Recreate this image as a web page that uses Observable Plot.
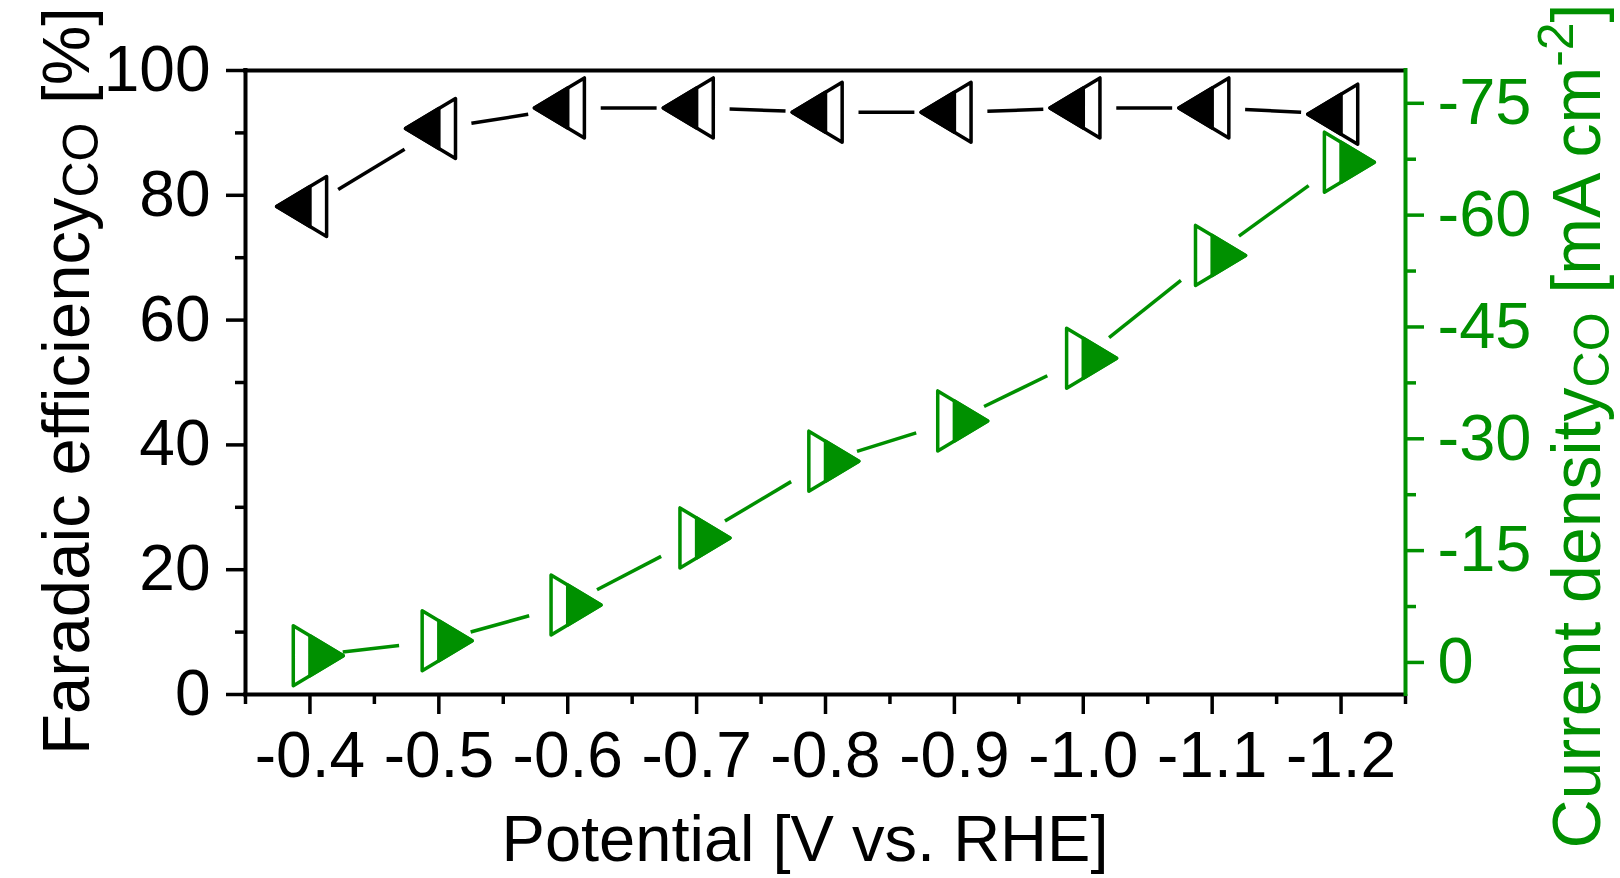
<!DOCTYPE html>
<html>
<head>
<meta charset="utf-8">
<script src="https://cdn.jsdelivr.net/npm/d3@7"></script>
<script src="https://cdn.jsdelivr.net/npm/@observablehq/plot@0.6"></script>
<style>
  html, body { margin: 0; padding: 0; background: #fff; }
  #chart svg { display: block; }
</style>
</head>
<body>
<div id="chart"></div>
<script>
// ---- Data ----
const potentials = [-0.4, -0.5, -0.6, -0.7, -0.8, -0.9, -1.0, -1.1, -1.2];
const faradaicEfficiencyCO = [78.2, 90.7, 94.0, 94.0, 93.3, 93.3, 94.0, 94.0, 93.0];
const currentDensityCO = [-0.9, -2.9, -7.7, -16.7, -27.0, -32.4, -40.8, -54.6, -67.1];

// ---- Tick labels ----
const xTicks = [-0.4, -0.5, -0.6, -0.7, -0.8, -0.9, -1.0, -1.1, -1.2];
const xMinorTicks = [-0.35, -0.45, -0.55, -0.65, -0.75, -0.85, -0.95, -1.05, -1.15, -1.25];
const leftTicks = [0, 20, 40, 60, 80, 100];
const leftMinorTicks = [10, 30, 50, 70, 90];
const rightTicks = [0, -15, -30, -45, -60, -75];
const rightMinorTicks = [-7.5, -22.5, -37.5, -52.5, -67.5];

// ---- Styling ----
const GREEN = "#009000";
const FONT = "'Liberation Sans', Arial, Helvetica, sans-serif";

// secondary axis: current density mapped onto the left (FE) scale
const rightScale = d3.scaleLinear().domain([4.3, -79.4]).range([0, 100]);

const feData = potentials.map((p, i) => ({potential: p, value: faradaicEfficiencyCO[i]}));
const cdData = potentials.map((p, i) => ({potential: p, value: rightScale(currentDensityCO[i])}));
const segs = (arr) => arr.slice(0, -1).map((d, i) => ({x1: d.potential, y1: d.value, x2: arr[i + 1].potential, y2: arr[i + 1].value}));

// Half-filled triangle symbols (centred on the centroid)
function tri(dir, part) {
  return {
    draw(ctx, size) {
      const r = Math.sqrt(size / Math.PI);
      const w = r * 5 / 3, h = r;
      const s = dir; // -1 = pointing left, +1 = pointing right
      if (part === "full") {
        ctx.moveTo(s * 2 * w / 3, 0);
        ctx.lineTo(-s * w / 3, -h);
        ctx.lineTo(-s * w / 3, h);
        ctx.closePath();
      } else {
        ctx.moveTo(s * 2 * w / 3, 0);
        ctx.lineTo(0, -h * 2 / 3);
        ctx.lineTo(0, h * 2 / 3);
        ctx.closePath();
      }
    }
  };
}

const plot = Plot.plot({
  width: 1620,
  height: 878,
  marginLeft: 245,
  marginRight: 215,
  marginTop: 70,
  marginBottom: 184,
  style: {fontFamily: FONT, fontSize: "64px", color: "#000", background: "#fff"},
  x: {domain: [-0.35, -1.25], label: null},
  y: {domain: [0, 100], label: null},
  marks: [
    // axes
    Plot.axisX(xTicks, {tickSize: 20, tickPadding: 17, tickFormat: d => d.toFixed(1), fontSize: 64, strokeWidth: 3.5, label: null}),
    Plot.axisX(xMinorTicks, {tickSize: 10, tickFormat: () => "", strokeWidth: 3.5, label: null}),
    Plot.axisY(leftTicks, {anchor: "left", tickSize: 19, tickPadding: 16, tickFormat: d => String(d), fontSize: 64, strokeWidth: 3.5, label: null}),
    Plot.axisY(leftMinorTicks, {anchor: "left", tickSize: 10, tickFormat: () => "", strokeWidth: 3.5, label: null}),
    Plot.axisY(rightTicks.map(v => rightScale(v)), {anchor: "right", tickSize: 18, tickPadding: 14, tickFormat: d => String(Math.round(rightScale.invert(d))), fontSize: 65, stroke: GREEN, fill: GREEN, strokeWidth: 3.5, label: null}),
    Plot.axisY(rightMinorTicks.map(v => rightScale(v)), {anchor: "right", tickSize: 10, tickFormat: () => "", stroke: GREEN, strokeWidth: 3.5, label: null}),
    // frame
    Plot.ruleY([0, 100], {strokeWidth: 4, strokeLinecap: "square"}),
    Plot.ruleX([-0.35], {strokeWidth: 4, strokeLinecap: "square"}),
    Plot.ruleX([-1.25], {stroke: GREEN, strokeWidth: 4, strokeLinecap: "square"}),
    // connecting lines with gaps
    Plot.arrow(segs(feData), {x1: "x1", y1: "y1", x2: "x2", y2: "y2", stroke: "#000", strokeWidth: 3.5, headLength: 0, insetStart: 33, insetEnd: 40, strokeLinecap: "butt"}),
    Plot.arrow(segs(cdData), {x1: "x1", y1: "y1", x2: "x2", y2: "y2", stroke: GREEN, strokeWidth: 3.5, headLength: 0, insetStart: 33, insetEnd: 40, strokeLinecap: "butt"}),
    // markers
    Plot.dot(feData, {x: "potential", y: "value", r: 30, symbol: tri(-1, "full"), fill: "#fff", stroke: "#000", strokeWidth: 3.5, strokeLinejoin: "round"}),
    Plot.dot(feData, {x: "potential", y: "value", r: 30, symbol: tri(-1, "half"), fill: "#000", stroke: "#000", strokeWidth: 3.5, strokeLinejoin: "round"}),
    Plot.dot(cdData, {x: "potential", y: "value", r: 30, symbol: tri(1, "full"), fill: "#fff", stroke: GREEN, strokeWidth: 3.5, strokeLinejoin: "round"}),
    Plot.dot(cdData, {x: "potential", y: "value", r: 30, symbol: tri(1, "half"), fill: GREEN, stroke: GREEN, strokeWidth: 3.5, strokeLinejoin: "round"})
  ]
});

// ---- Axis titles (with sub/superscripts) ----
const svg = d3.select(plot);
function title(x, y, rotate, color, size, parts) {
  const small = Math.round(size * 0.74);
  const t = svg.append("text")
    .attr("transform", `translate(${x},${y})` + (rotate ? ` rotate(${rotate})` : ""))
    .attr("text-anchor", "middle")
    .attr("fill", color)
    .style("font-family", FONT)
    .style("font-size", size + "px");
  parts.forEach(([txt, kind]) => {
    const s = t.append("tspan").text(txt);
    if (kind === "sub") s.style("font-size", small + "px").attr("dy", "9");
    if (kind === "sup") s.style("font-size", small + "px").attr("dy", "-27");
    if (kind === "afterSub") s.attr("dy", "-9");
    if (kind === "afterSup") s.attr("dy", "27");
  });
}
title(805, 861, 0, "#000", 65, [["Potential [V vs. RHE]"]]);
title(89, 381, -90, "#000", 67, [["Faradaic efficiency"], ["CO", "sub"], [" [%]", "afterSub"]]);
title(1600, 426, -90, GREEN, 68, [["Current density"], ["CO", "sub"], [" [mA cm", "afterSub"], ["-2", "sup"], ["]", "afterSup"]]);

document.getElementById("chart").appendChild(plot);
</script>
</body>
</html>
